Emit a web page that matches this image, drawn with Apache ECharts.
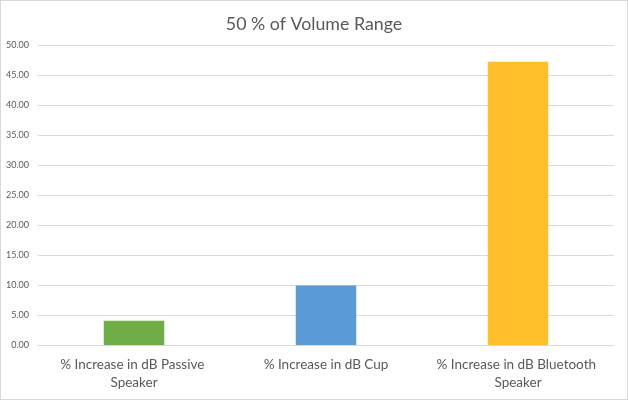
<!DOCTYPE html>
<html>
<head>
<meta charset="utf-8">
<script src="https://cdn.jsdelivr.net/npm/echarts@6/dist/echarts.min.js"></script>
<style>
html,body{margin:0;padding:0;background:#fff;}
#c{width:626px;height:398px;border:1px solid #d9d9d9;}
</style>
</head>
<body>
<div id="c"></div>
<script>
var categories = ['% Increase in dB Passive Speaker', '% Increase in dB Cup', '% Increase in dB Bluetooth Speaker'];
var values = [4.05, 9.9, 47.2];
var barColors = ['#70ad47', '#5b9bd5', '#ffc02c'];
var yTicks = [0, 5, 10, 15, 20, 25, 30, 35, 40, 45, 50];

var chart = echarts.init(document.getElementById('c'));
chart.setOption({
  animation: false,
  title: {
    text: '50 % of Volume Range',
    left: 'center',
    top: 9,
    textStyle: {fontFamily: 'Lato', fontSize: 17.8, fontWeight: 'normal', color: '#595959'}
  },
  grid: {left: 37, right: 13, top: 44, bottom: 54},
  xAxis: {
    type: 'category',
    data: categories,
    axisLine: {lineStyle: {color: '#d9d9d9'}},
    axisTick: {show: false},
    axisLabel: {
      fontFamily: 'Lato', fontSize: 13.5, color: '#595959',
      width: 180, overflow: 'break', lineHeight: 18, margin: 11, interval: 0
    }
  },
  yAxis: {
    type: 'value',
    min: yTicks[0],
    max: yTicks[yTicks.length - 1],
    interval: 5,
    axisLine: {show: false},
    axisTick: {show: false},
    splitLine: {lineStyle: {color: '#d9d9d9'}},
    axisLabel: {
      fontFamily: 'Lato', fontSize: 9, color: '#595959', margin: 9,
      formatter: function (v) { return v.toFixed(2); }
    }
  },
  series: [{
    type: 'bar',
    barWidth: '31.5%',
    data: values.map(function (v, i) { return {value: v, itemStyle: {color: barColors[i]}}; })
  }]
});
</script>
</body>
</html>
